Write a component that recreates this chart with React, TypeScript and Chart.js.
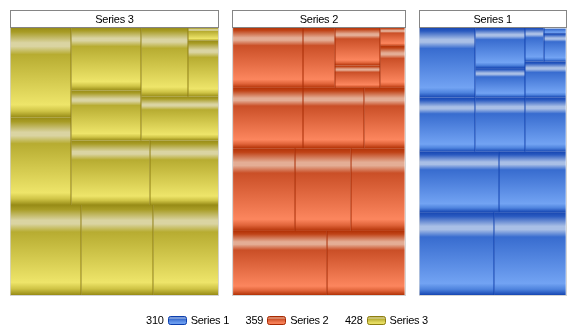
import React, { useEffect, useRef } from 'react';
import { Chart, registerables } from 'chart.js';

Chart.register(...registerables);

// ---- data ----
const panelNames = ['Series 3', 'Series 2', 'Series 1'];
const series3Values = [49, 50, 45, 42, 41, 39, 34, 34, 27, 26, 25, 13, 3];
const series2Values = [47, 39, 40, 36, 35, 33, 33, 29, 19, 15, 13.5, 8, 8, 3.5];
const series1Values = [49, 47, 38, 32, 31, 24, 21.5, 17.5, 16, 11.5, 11.5, 5, 5, 1];
const legendNames = ['Series 1', 'Series 2', 'Series 3'];

// ---- styles ----
type Palette = { dark: string; dark2: string; pale: string; mid: string; bright: string; bright2: string; line: string };
const palettes: Record<string, Palette> = {
  'Series 1': { dark: '#1646b2', dark2: '#2a5ac0', pale: '#a9bfe6', mid: '#386ccf', bright: '#72a3f3', bright2: '#4f84de', line: '#0c3fae' },
  'Series 2': { dark: '#b23206', dark2: '#c04418', pale: '#e4ad95', mid: '#ca4f27', bright: '#fc865e', bright2: '#e0643a', line: '#a82a02' },
  'Series 3': { dark: '#978b16', dark2: '#a89c26', pale: '#dad4a2', mid: '#b7ac31', bright: '#eee56a', bright2: '#cfc446', line: '#8e7e10' },
};
const FONT = '11px "Liberation Sans", Arial, sans-serif';
const GAP_UNITS = 28.9;

const sum = (a: number[]) => a.reduce((s, v) => s + v, 0);
const groups = [
  { name: panelNames[0], values: series3Values },
  { name: panelNames[1], values: series2Values },
  { name: panelNames[2], values: series1Values },
];
const grandTotal = sum(groups.map((g) => sum(g.values)));

type R = { x: number; y: number; w: number; h: number };

function worst(row: number[], side: number, ppu: number) {
  const s = sum(row) * ppu;
  const thick = s / side;
  let m = 0;
  for (const v of row) {
    const len = (v * ppu) / thick;
    m = Math.max(m, thick / len, len / thick);
  }
  return m;
}

function squarify(values: number[], x: number, y: number, w: number, h: number): R[] {
  const ppu = (w * h) / sum(values);
  const out: R[] = [];
  let rx = x, ry = y, rw = w, rh = h;
  let i = 0;
  while (i < values.length) {
    const vertical = rw >= rh;
    const side = vertical ? rh : rw;
    let row = [values[i]];
    let best = worst(row, side, ppu);
    let j = i + 1;
    while (j < values.length) {
      const cand = row.concat(values[j]);
      const wv = worst(cand, side, ppu);
      if (wv <= best) { row = cand; best = wv; j++; } else break;
    }
    const rs = sum(row);
    const thick = (rs * ppu) / side;
    if (vertical) {
      let cy = ry;
      for (const v of row) { const hh = (v / rs) * rh; out.push({ x: rx, y: cy, w: thick, h: hh }); cy += hh; }
      rx += thick; rw -= thick;
    } else {
      let cx = rx;
      for (const v of row) { const ww = (v / rs) * rw; out.push({ x: cx, y: ry + rh - thick, w: ww, h: thick }); cx += ww; }
      rh -= thick;
    }
    i = j;
  }
  return out;
}

function grad(ctx: CanvasRenderingContext2D, y: number, h: number, p: Palette) {
  const g = ctx.createLinearGradient(0, y, 0, y + h);
  g.addColorStop(0, p.dark);
  g.addColorStop(0.05, p.dark2);
  g.addColorStop(0.17, p.pale);
  g.addColorStop(0.21, p.pale);
  g.addColorStop(0.3, p.mid);
  g.addColorStop(0.86, p.bright);
  g.addColorStop(0.93, p.bright2);
  g.addColorStop(1, p.dark);
  return g;
}

const treemapPlugin = {
  id: 'treemapCells',
  afterDraw(chart: any) {
    const ctx: CanvasRenderingContext2D = chart.ctx;
    const xs = chart.scales.x;
    const ys = chart.scales.y;
    const yTop = ys.getPixelForValue(1);
    const yBot = ys.getPixelForValue(0);
    ctx.save();
    let start = 0;
    for (const g of groups) {
      const total = sum(g.values);
      const x0 = xs.getPixelForValue(start);
      const x1 = xs.getPixelForValue(start + total - GAP_UNITS);
      start += total;
      const pal = palettes[g.name];
      // panel frame
      ctx.strokeStyle = '#d4d4d4';
      ctx.lineWidth = 1;
      ctx.strokeRect(Math.round(x0) - 0.5, Math.round(yTop) - 0.5, Math.round(x1) - Math.round(x0) + 1, Math.round(yBot) - Math.round(yTop) + 1);
      const rects = squarify(g.values, x0, yTop, x1 - x0, yBot - yTop);
      for (const r of rects) {
        ctx.fillStyle = grad(ctx, r.y, r.h, pal);
        ctx.fillRect(r.x, r.y, r.w, r.h);
      }
      ctx.fillStyle = pal.line;
      for (const r of rects) {
        if (r.x > x0 + 1) ctx.fillRect(Math.round(r.x) - 0.5, r.y, 1, r.h);
      }
      // title box
      const tx = Math.round(x0) - 0.5;
      const tw = Math.round(x1) - Math.round(x0) + 1;
      ctx.fillStyle = '#ffffff';
      ctx.fillRect(tx, 10.5, tw, 17);
      ctx.strokeStyle = '#858585';
      ctx.strokeRect(tx, 10.5, tw, 17);
      ctx.fillStyle = '#000000';
      ctx.font = FONT;
      (ctx as any).letterSpacing = '-0.25px';
      ctx.textAlign = 'center';
      ctx.textBaseline = 'middle';
      ctx.fillText(g.name, (x0 + x1) / 2, 19.5);
      (ctx as any).letterSpacing = '0px';
    }

    // legend
    ctx.font = FONT;
    (ctx as any).letterSpacing = '-0.25px';
    ctx.textBaseline = 'middle';
    ctx.textAlign = 'left';
    const boxW = 18, boxH = 8, gapA = 4, gapB = 5, itemGap = 16.5;
    const items = legendNames.map((n) => {
      const grp = groups.find((gg) => gg.name === n)!;
      const valText = String(Math.round(sum(grp.values)));
      const vw = ctx.measureText(valText).width;
      const lw = ctx.measureText(n).width;
      return { n, valText, vw, lw, w: vw + gapA + boxW + gapB + lw };
    });
    const totalW = sum(items.map((it) => it.w)) + itemGap * (items.length - 1);
    let lx = 287 - totalW / 2;
    const ly = 320.7;
    for (const it of items) {
      const pal = palettes[it.n];
      ctx.fillStyle = '#000000';
      ctx.fillText(it.valText, lx, ly);
      const bx = Math.round(lx + it.vw + gapA) + 0.5;
      const by = 316.5;
      ctx.beginPath();
      (ctx as any).roundRect(bx, by, boxW, boxH, 2);
      ctx.fillStyle = grad(ctx, by, boxH, pal);
      ctx.fill();
      ctx.strokeStyle = pal.line;
      ctx.lineWidth = 1;
      ctx.stroke();
      ctx.fillStyle = '#000000';
      ctx.fillText(it.n, lx + it.vw + gapA + boxW + gapB, ly);
      lx += it.w + itemGap;
    }
    (ctx as any).letterSpacing = '0px';
    ctx.restore();
  },
};

export default function App() {
  const ref = useRef<HTMLCanvasElement | null>(null);
  useEffect(() => {
    document.body.style.margin = '0';
    const canvas = ref.current!;
    const chart = new Chart(canvas, {
      type: 'scatter',
      data: { datasets: [] },
      options: {
        responsive: false,
        animation: false,
        devicePixelRatio: 1,
        layout: { padding: { left: 10.7, right: 9.3, top: 27.5, bottom: 39 } },
        scales: {
          x: { type: 'linear', min: 0, max: grandTotal - GAP_UNITS, display: false },
          y: { type: 'linear', min: 0, max: 1, display: false },
        },
        plugins: { legend: { display: false }, tooltip: { enabled: false }, title: { display: false } },
      },
      plugins: [treemapPlugin],
    } as any);
    return () => chart.destroy();
  }, []);
  return (
    <div style={{ width: 575, height: 334, background: '#ffffff' }}>
      <canvas ref={ref} width={575} height={334} style={{ display: 'block' }} />
    </div>
  );
}
